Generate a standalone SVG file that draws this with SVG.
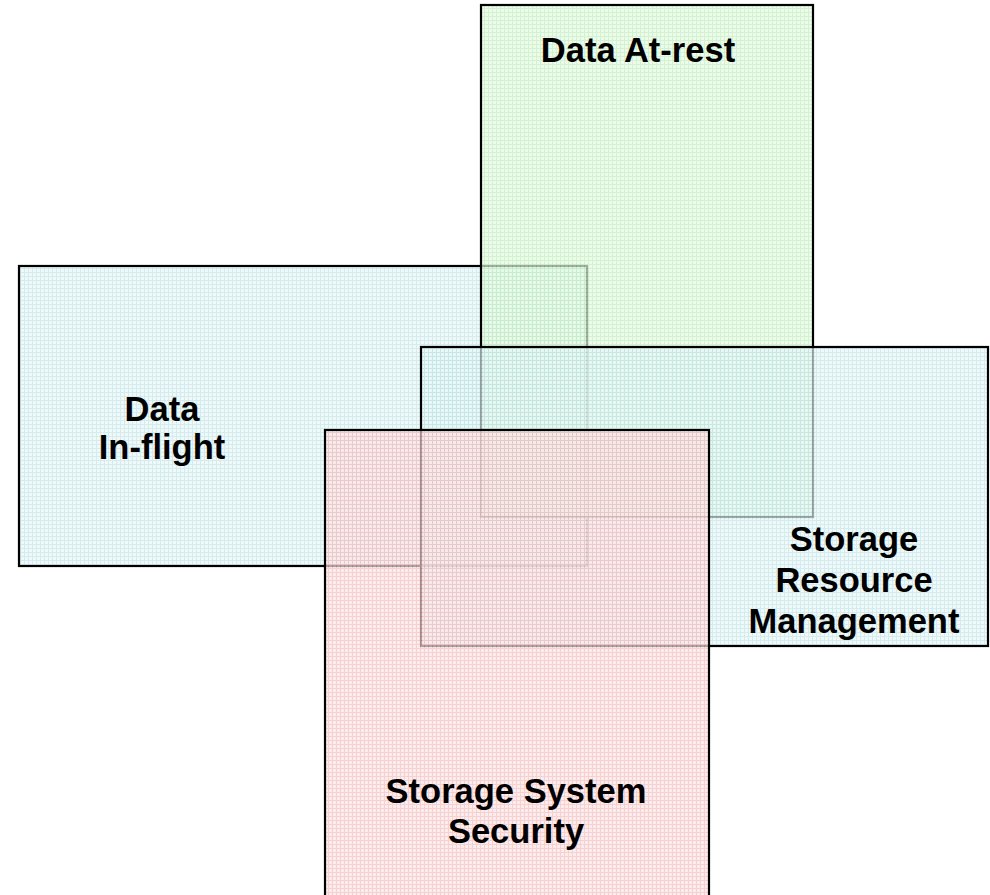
<svg xmlns="http://www.w3.org/2000/svg" width="990" height="895" viewBox="0 0 990 895">
  <style>
    .box { stroke: #000; stroke-width: 2.2; }
    .lbl { font-family: "Liberation Sans", Arial, sans-serif; font-weight: bold; font-size: 34.5px; fill: #000; text-anchor: middle; }
  </style>
  <defs>
    <pattern id="pBlue" width="4" height="4" patternUnits="userSpaceOnUse">
      <rect width="4" height="4" fill="#e8f6f6"/>
      <path d="M0 0.5H4M0.5 0V4" stroke="#c2e4e6" stroke-width="1"/>
    </pattern>
    <pattern id="pGreen" width="4" height="4" patternUnits="userSpaceOnUse">
      <rect width="4" height="4" fill="#e6f9e2"/>
      <path d="M0 0.5H4M0.5 0V4" stroke="#bfecbf" stroke-width="1"/>
    </pattern>
    <pattern id="pPink" width="4" height="4" patternUnits="userSpaceOnUse">
      <rect width="4" height="4" fill="#fce4e4"/>
      <path d="M0 0.5H4M0.5 0V4" stroke="#f4bcbf" stroke-width="1"/>
    </pattern>
  </defs>
  <rect width="990" height="895" fill="#fff"/>
  <g id="data-in-flight">
    <rect class="box" x="19" y="266" width="568" height="300" fill="url(#pBlue)" fill-opacity="0.7"/>
    <text class="lbl" x="162" y="421">Data</text>
    <text class="lbl" x="162" y="459">In-flight</text>
  </g>
  <g id="data-at-rest">
    <rect class="box" x="481" y="5" width="332" height="512" fill="url(#pGreen)" fill-opacity="0.7"/>
    <text class="lbl" x="638" y="62">Data At-rest</text>
  </g>
  <g id="storage-resource-management">
    <rect class="box" x="421" y="347" width="567" height="299" fill="url(#pBlue)" fill-opacity="0.7"/>
    <text class="lbl" x="854" y="551">Storage</text>
    <text class="lbl" x="854" y="592">Resource</text>
    <text class="lbl" x="854" y="633">Management</text>
  </g>
  <g id="storage-system-security">
    <rect class="box" x="325" y="430" width="384" height="480" fill="url(#pPink)" fill-opacity="0.7"/>
    <text class="lbl" x="516" y="803">Storage System</text>
    <text class="lbl" x="516" y="843">Security</text>
  </g>
  <g id="connectors"></g>
</svg>
